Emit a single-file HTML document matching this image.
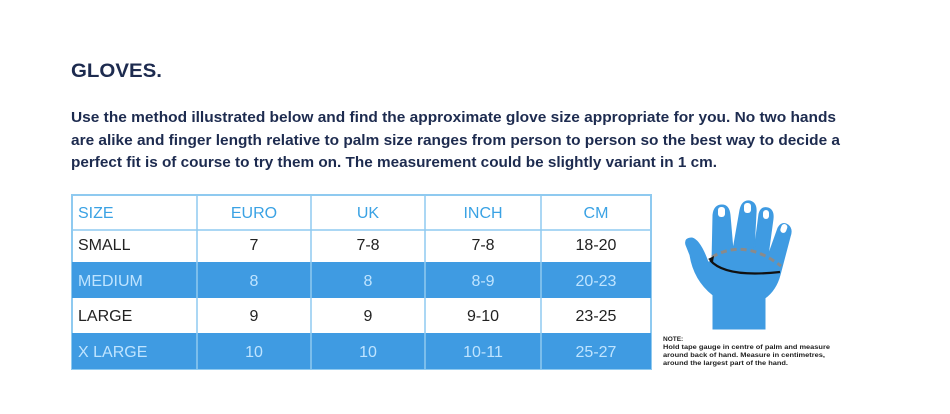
<!DOCTYPE html>
<html><head><meta charset="utf-8"><style>
html,body{margin:0;padding:0;background:#fff;width:950px;height:414px;overflow:hidden}
svg{display:block;font-family:"Liberation Sans",sans-serif}
</style></head><body>
<svg width="950" height="414" viewBox="0 0 950 414" xmlns="http://www.w3.org/2000/svg">
<rect width="950" height="414" fill="#fff"/>
<text x="71" y="77" font-size="19" font-weight="bold" fill="#1d2b4f" textLength="91" lengthAdjust="spacingAndGlyphs">GLOVES.</text>
<g font-size="15" font-weight="bold" fill="#1d2b4f">
<text x="71" y="122" textLength="765" lengthAdjust="spacingAndGlyphs">Use the method illustrated below and find the approximate glove size appropriate for you. No two hands</text>
<text x="71" y="145" textLength="769" lengthAdjust="spacingAndGlyphs">are alike and finger length relative to palm size ranges from person to person so the best way to decide a</text>
<text x="71" y="167" textLength="646" lengthAdjust="spacingAndGlyphs">perfect fit is of course to try them on. The measurement could be slightly variant in 1 cm.</text>
</g>
<rect x="72" y="195" width="579" height="174" fill="#fff" stroke="#8fcaf0" stroke-width="2"/>
<rect x="72" y="262" width="579" height="36" fill="#3f9be2"/>
<rect x="72" y="333" width="579" height="36" fill="#3f9be2"/>
<g stroke="#8fcaf0" stroke-width="1.5">
<line x1="72" y1="230" x2="651" y2="230"/>
<line x1="197" y1="195" x2="197" y2="369"/>
<line x1="311" y1="195" x2="311" y2="369"/>
<line x1="425" y1="195" x2="425" y2="369"/>
<line x1="541" y1="195" x2="541" y2="369"/>
</g>
<g font-size="16" text-anchor="middle">
<g fill="#3aa2e4"><text x="78" y="218" text-anchor="start">SIZE</text><text x="254" y="218">EURO</text><text x="368" y="218">UK</text><text x="483" y="218">INCH</text><text x="596" y="218">CM</text></g>
<g fill="#222"><text x="78" y="250" text-anchor="start">SMALL</text><text x="254" y="250">7</text><text x="368" y="250">7-8</text><text x="483" y="250">7-8</text><text x="596" y="250">18-20</text></g>
<g fill="#bfe4ff"><text x="78" y="286" text-anchor="start">MEDIUM</text><text x="254" y="286">8</text><text x="368" y="286">8</text><text x="483" y="286">8-9</text><text x="596" y="286">20-23</text></g>
<g fill="#222"><text x="78" y="321" text-anchor="start">LARGE</text><text x="254" y="321">9</text><text x="368" y="321">9</text><text x="483" y="321">9-10</text><text x="596" y="321">23-25</text></g>
<g fill="#bfe4ff"><text x="78" y="357" text-anchor="start">X LARGE</text><text x="254" y="357">10</text><text x="368" y="357">10</text><text x="483" y="357">10-11</text><text x="596" y="357">25-27</text></g>
</g>
<g fill="#3f9be2" stroke="#3f9be2" stroke-linecap="round">
<path d="M713 329 L713 295 Q694 280 690 255 L686 245 Q684 238 692 238 Q700 240 708 262 L712 262 L713 215 Q714 205 722 205 Q729 205 730 215 L733 250 L740 210 Q742 200 750 201 Q757 203 756 213 L754 252 L759 214 Q761 206 768 208 Q774 210 773 219 L768 256 L778 228 Q782 221 788 225 Q793 229 790 237 L780 275 Q776 290 765 298 L765 329 Z" stroke-width="1"/>
</g>
<g fill="#fff">
<rect x="718" y="207" width="7" height="10" rx="3"/>
<rect x="744" y="203" width="7" height="10" rx="3"/>
<rect x="763" y="210" width="6" height="9" rx="3"/>
<rect x="781" y="224" width="6" height="9" rx="3" transform="rotate(20 784 228)"/>
</g>
<path d="M712 257 Q745 238 781 266" fill="none" stroke="#8a8a8a" stroke-width="3" stroke-dasharray="6 4"/>
<path d="M710 260 Q725 278 780 272" fill="none" stroke="#111" stroke-width="2.2"/>
<path d="M708 259 L714 256 L713 262 Z" fill="#111"/>
<g font-size="6.5" font-weight="bold" fill="#222">
<text x="663" y="341">NOTE:</text>
<text x="663" y="349" textLength="167" lengthAdjust="spacingAndGlyphs">Hold tape gauge in centre of palm and measure</text>
<text x="663" y="357" textLength="162" lengthAdjust="spacingAndGlyphs">around back of hand. Measure in centimetres,</text>
<text x="663" y="365" textLength="125" lengthAdjust="spacingAndGlyphs">around the largest part of the hand.</text>
</g>
</svg>
</body></html>
